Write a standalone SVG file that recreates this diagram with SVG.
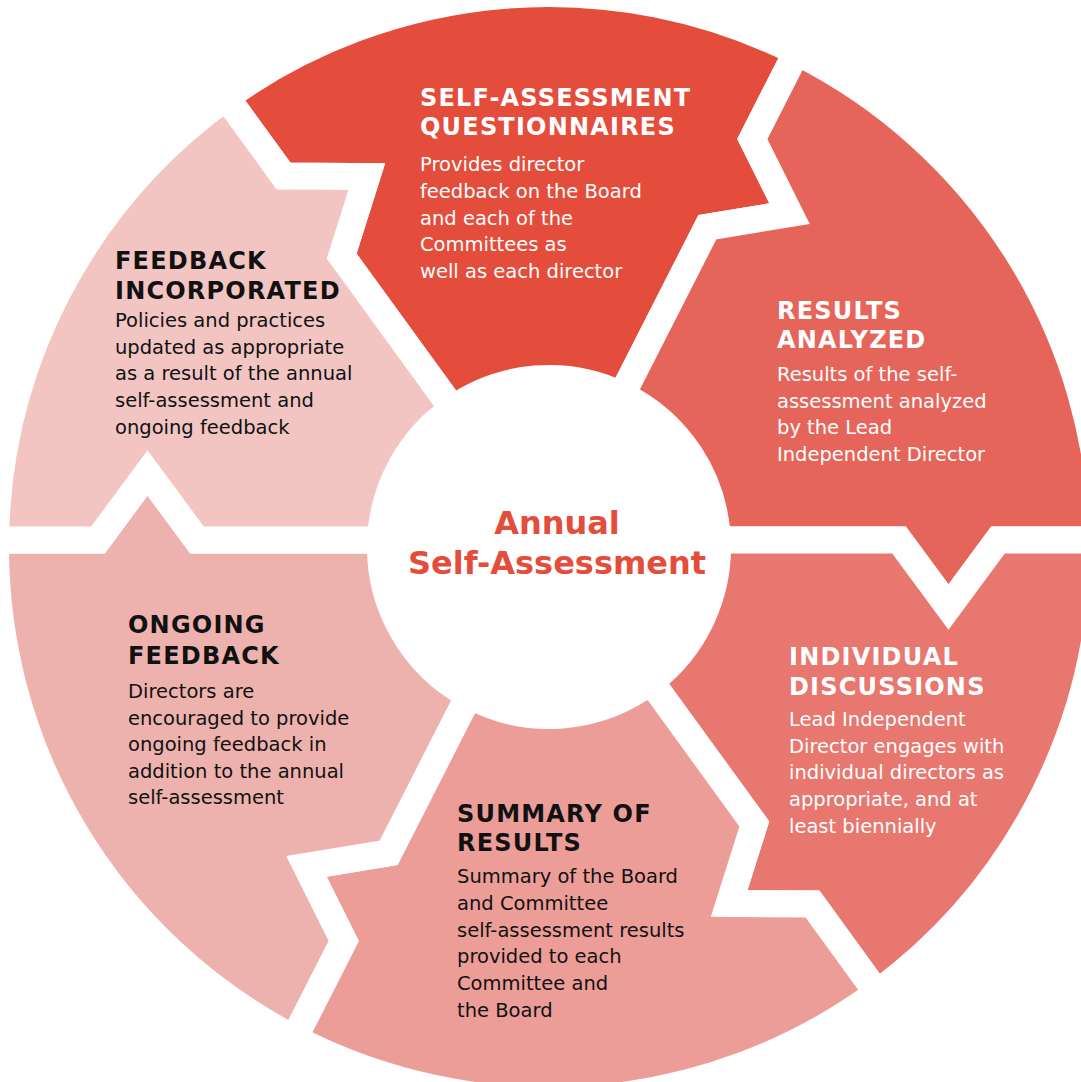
<svg xmlns="http://www.w3.org/2000/svg" width="1081" height="1082" viewBox="0 0 1081 1082">
<style>
.seg{stroke:#fff;stroke-width:27;stroke-linejoin:miter;stroke-miterlimit:10}
.h{font-family:"DejaVu Sans",sans-serif;font-weight:bold;font-size:24px;letter-spacing:1.2px}
.b{font-family:"DejaVu Sans",sans-serif;font-size:19.5px}
.w{fill:#fff}
.k{fill:#111}
.c{font-family:"DejaVu Sans",sans-serif;font-weight:bold;font-size:32px;fill:#E44D3C;text-anchor:middle}
</style>
<rect width="1081" height="1082" fill="#fff"/>
<g id="saq">
<path class="seg" fill="#E44D3C" d="M226.34 97.27 A553.5 553.5 0 0 1 796.65 51.99 L752.30 139.05 L789.52 213.57 L707.35 227.26 L621.85 395.06 A168.5 168.5 0 0 0 452.65 408.76 L341.69 256.03 L366.79 176.61 L283.49 175.94 Z"/>
<text class="h w" x="420" y="106">SELF-ASSESSMENT</text>
<text class="h w" x="420" y="135">QUESTIONNAIRES</text>
<text class="b w" x="420" y="171">Provides director</text>
<text class="b w" x="420" y="198">feedback on the Board</text>
<text class="b w" x="420" y="225">and each of the</text>
<text class="b w" x="420" y="251">Committees as</text>
<text class="b w" x="420" y="278">well as each director</text>
</g>
<g id="results">
<path class="seg" fill="#E6655B" d="M796.65 51.99 A553.5 553.5 0 0 1 1102.46 540 L998 540 L948.5 607 L899 540 L717.36 540 A168.5 168.5 0 0 0 621.85 395.06 L707.35 227.26 L789.52 213.57 L752.30 139.05 Z"/>
<text class="h w" x="777" y="319">RESULTS</text>
<text class="h w" x="777" y="348">ANALYZED</text>
<text class="b w" x="777" y="381">Results of the self-</text>
<text class="b w" x="777" y="408">assessment analyzed</text>
<text class="b w" x="777" y="434">by the Lead</text>
<text class="b w" x="777" y="461">Independent Director</text>
</g>
<g id="individual">
<path class="seg" fill="#E87770" d="M1102.46 540 A553.5 553.5 0 0 1 877.01 992.84 L812.51 904.06 L729.21 903.39 L754.31 823.97 L650.70 681.35 A168.5 168.5 0 0 0 717.36 540 L899 540 L948.5 607 L998 540 Z"/>
<text class="h w" x="789" y="665">INDIVIDUAL</text>
<text class="h w" x="789" y="695">DISCUSSIONS</text>
<text class="b w" x="789" y="726">Lead Independent</text>
<text class="b w" x="789" y="753">Director engages with</text>
<text class="b w" x="789" y="779">individual directors as</text>
<text class="b w" x="789" y="806">appropriate, and at</text>
<text class="b w" x="789" y="833">least biennially</text>
</g>
<g id="summary">
<path class="seg" fill="#EC9D98" d="M877.01 992.84 A553.5 553.5 0 0 1 294.10 1038.31 L343.70 940.95 L306.48 866.43 L388.65 852.74 L468.90 695.24 A168.5 168.5 0 0 0 650.70 681.35 L754.31 823.97 L729.21 903.39 L812.51 904.06 Z"/>
<text class="h k" x="457" y="822">SUMMARY OF</text>
<text class="h k" x="457" y="851">RESULTS</text>
<text class="b k" x="457" y="883">Summary of the Board</text>
<text class="b k" x="457" y="910">and Committee</text>
<text class="b k" x="457" y="937">self-assessment results</text>
<text class="b k" x="457" y="963">provided to each</text>
<text class="b k" x="457" y="990">Committee and</text>
<text class="b k" x="457" y="1017">the Board</text>
</g>
<g id="ongoing">
<path class="seg" fill="#EEB2AE" d="M294.10 1038.31 A553.5 553.5 0 0 1 -4.46 540 L98 540 L147.5 473 L197 540 L380.64 540 A168.5 168.5 0 0 0 468.90 695.24 L388.65 852.74 L306.48 866.43 L343.70 940.95 Z"/>
<text class="h k" x="128" y="633">ONGOING</text>
<text class="h k" x="128" y="664">FEEDBACK</text>
<text class="b k" x="128" y="698">Directors are</text>
<text class="b k" x="128" y="725">encouraged to provide</text>
<text class="b k" x="128" y="751">ongoing feedback in</text>
<text class="b k" x="128" y="778">addition to the annual</text>
<text class="b k" x="128" y="804">self-assessment</text>
</g>
<g id="incorporated">
<path class="seg" fill="#F2C5C3" d="M-4.46 540 A553.5 553.5 0 0 1 226.34 97.27 L283.49 175.94 L366.79 176.61 L341.69 256.03 L452.65 408.76 A168.5 168.5 0 0 0 380.64 540 L197 540 L147.5 473 L98 540 Z"/>
<text class="h k" x="115" y="269">FEEDBACK</text>
<text class="h k" x="115" y="299">INCORPORATED</text>
<text class="b k" x="115" y="327">Policies and practices</text>
<text class="b k" x="115" y="354">updated as appropriate</text>
<text class="b k" x="115" y="380">as a result of the annual</text>
<text class="b k" x="115" y="407">self-assessment and</text>
<text class="b k" x="115" y="434">ongoing feedback</text>
</g>
<g id="center">
<text class="c" x="557" y="534">Annual</text>
<text class="c" x="557" y="574">Self-Assessment</text>
</g>
<g id="connectors"></g>
</svg>
